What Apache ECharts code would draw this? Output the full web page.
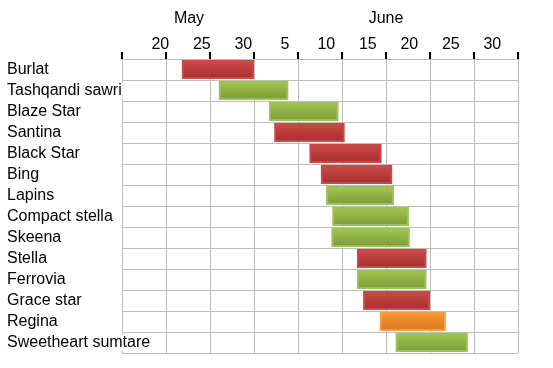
<!DOCTYPE html>
<html>
<head>
<meta charset="utf-8">
<script src="https://cdn.jsdelivr.net/npm/echarts@6/dist/echarts.min.js"></script>
<style>
html,body{margin:0;padding:0;background:#fff;}
#c{width:553px;height:368px;}
</style>
</head>
<body>
<div id="c"></div>
<script>
// Day numbers: May d = d, June d = 31 + d
const varieties = ["Burlat","Tashqandi sawri","Blaze Star","Santina","Black Star","Bing","Lapins","Compact stella","Skeena","Stella","Ferrovia","Grace star","Regina","Sweetheart sumtare"];
const startDay = [21.8, 26.0, 31.7, 32.3, 36.3, 37.6, 38.2, 38.9, 38.8, 41.7, 41.7, 42.4, 44.3, 46.1];
const endDay   = [30.0, 33.9, 39.6, 40.3, 44.5, 45.7, 45.9, 47.6, 47.7, 49.6, 49.6, 50.0, 51.8, 54.3];
const colorKind = ["red","green","green","red","red","red","green","green","green","red","green","red","orange","green"];
const dayLabels = ["20","25","30","5","10","15","20","25","30"];
const monthLabels = ["May","June"];

const FONT = "Liberation Sans";
const palette = {
  red:    {top:"#d14b48", bottom:"#a22f2d", border:"#c9494a"},
  green:  {top:"#a2c84f", bottom:"#7b9a39", border:"#9bc254"},
  orange: {top:"#fd9835", bottom:"#d7761f", border:"#f99a3c"}
};
function grad(k){
  const p = palette[k];
  return new echarts.graphic.LinearGradient(0,0,0,1,[{offset:0,color:p.top},{offset:1,color:p.bottom}]);
}

const durations = endDay.map((e,i)=> +(e - startDay[i]).toFixed(2));

const chart = echarts.init(document.getElementById('c'), null, {renderer:'canvas'});
chart.setOption({
  animation:false,
  backgroundColor:'#fff',
  grid:[
    {left:122, right:35, top:59, bottom:15},
    {left:139.6, right:39.9, top:59, height:1},
    {left:90.5, right:68.5, top:59, height:1}
  ],
  xAxis:[
    {type:'value', gridIndex:0, position:'top', min:15, max:60, interval:5, z:0,
     axisLine:{show:true, lineStyle:{color:'#bdbdbd', width:1}},
     axisTick:{show:true, length:7, lineStyle:{color:'#000', width:2}},
     axisLabel:{show:false},
     splitLine:{show:true, lineStyle:{color:'#bdbdbd', width:1}}},
    {type:'category', gridIndex:1, position:'top', data:dayLabels,
     axisLine:{show:false}, axisTick:{show:false}, splitLine:{show:false},
     axisLabel:{margin:6, interval:0, fontSize:16, color:'#000', fontFamily:FONT}},
    {type:'category', gridIndex:2, position:'top', data:monthLabels,
     axisLine:{show:false}, axisTick:{show:false}, splitLine:{show:false},
     axisLabel:{margin:32, interval:0, fontSize:16, color:'#000', fontFamily:FONT}}
  ],
  yAxis:[
    {type:'category', gridIndex:0, data:varieties, inverse:true, z:1,
     axisLine:{show:false}, axisTick:{show:false},
     splitLine:{show:true, lineStyle:{color:'#bdbdbd', width:1}},
     axisLabel:{margin:115, align:'left', fontSize:16, color:'#000', fontFamily:FONT,
                backgroundColor:'#fff', padding:[0,1,0,0]}},
    {type:'value', gridIndex:1, show:false},
    {type:'value', gridIndex:2, show:false}
  ],
  series:[
    {type:'bar', stack:'g', xAxisIndex:0, yAxisIndex:0, data:startDay,
     itemStyle:{color:'rgba(0,0,0,0)'}, barCategoryGap:'10%', silent:true},
    {type:'bar', stack:'g', xAxisIndex:0, yAxisIndex:0, barCategoryGap:'10%',
     data:durations.map((d,i)=>({value:d, itemStyle:{color:grad(colorKind[i]), borderColor:palette[colorKind[i]].border, borderWidth:2}}))}
  ]
});
</script>
</body>
</html>
